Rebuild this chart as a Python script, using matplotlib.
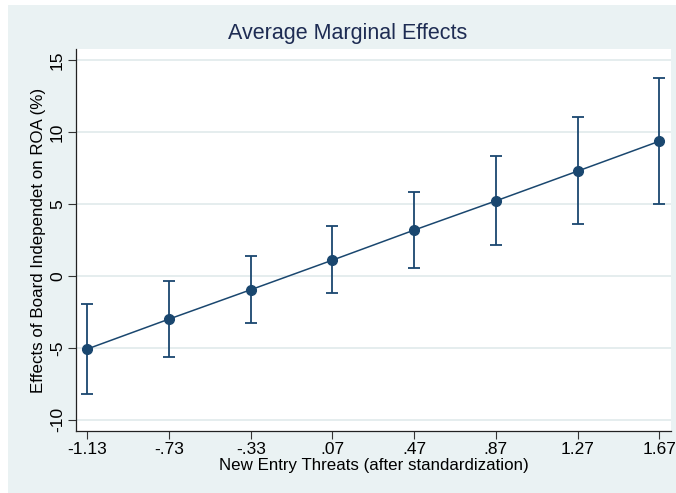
import matplotlib
matplotlib.use("Agg")
import matplotlib.pyplot as plt
from matplotlib.patches import Rectangle

x_values = [-1.13, -0.73, -0.33, 0.07, 0.47, 0.87, 1.27, 1.67]
x_labels = ["-1.13", "-.73", "-.33", ".07", ".47", ".87", "1.27", "1.67"]
effects = [-5.07, -2.99, -0.95, 1.11, 3.20, 5.23, 7.30, 9.38]
ci_upper = [-1.92, -0.37, 1.41, 3.47, 5.82, 8.34, 11.03, 13.74]
ci_lower = [-8.20, -5.63, -3.27, -1.20, 0.58, 2.15, 3.61, 4.98]
y_ticks = [-10, -5, 0, 5, 10, 15]
y_labels = ["-10", "-5", "0", "5", "10", "15"]

navy = "#1a476f"
bg = "#eaf2f3"

plt.rcParams['font.family'] = ['Liberation Sans', 'DejaVu Sans']

fig = plt.figure(figsize=(6.76, 4.93), dpi=100)
fig.patch.set_facecolor("white")
fig.patches.append(Rectangle((8/676, 0), 1 - 8/676, 1 - 5/493, transform=fig.transFigure,
                             facecolor=bg, edgecolor="none", zorder=-10))

ax = fig.add_axes([76/676, (493-430.7)/493, 595/676, (430.7-49.3)/493])
ax.set_facecolor("white")

lower_err = [e - l for e, l in zip(effects, ci_lower)]
upper_err = [u - e for e, u in zip(effects, ci_upper)]
ax.errorbar(x_values, effects, yerr=[lower_err, upper_err], fmt="none",
            ecolor=navy, elinewidth=1.3, capsize=4, capthick=1.3, zorder=3)
ax.plot(x_values, effects, color=navy, linewidth=1.1, marker="o", markersize=7,
        markerfacecolor=navy, markeredgecolor=navy, zorder=4)

ax.set_xlim(-1.185, 1.727)
ax.set_ylim(-10.75, 15.77)
ax.set_yticks(y_ticks)
ax.set_yticklabels(y_labels, rotation=90, va="center")
ax.set_xticks(x_values)
ax.set_xticklabels(x_labels)
ax.tick_params(axis="both", labelsize=12.5, length=6, width=0.8, color="#333333", pad=2)
ax.yaxis.grid(True, color="#e3eced", linewidth=1.3)
ax.set_axisbelow(True)
for s in ["top", "right"]:
    ax.spines[s].set_visible(False)
for s in ["left", "bottom"]:
    ax.spines[s].set_color("#222222")
    ax.spines[s].set_linewidth(0.9)

ax.set_xlabel("New Entry Threats (after standardization)", fontsize=12.2, labelpad=1)
ax.set_ylabel("Effects of Board Independet on ROA (%)", fontsize=12.2, labelpad=3)
fig.text(348/676, 1 - 34/493, "Average Marginal Effects", ha="center", va="center",
         fontsize=15.5, color="#1e2c53")

fig.savefig("out.png", dpi=100, facecolor=fig.get_facecolor())
